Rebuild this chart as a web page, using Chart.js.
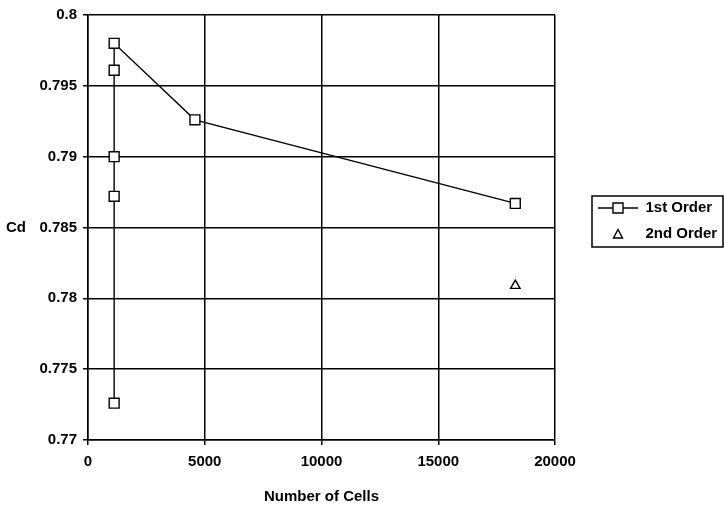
<!DOCTYPE html>
<html>
<head>
<meta charset="utf-8">
<script src="https://cdn.jsdelivr.net/npm/chart.js@4.4.1/dist/chart.umd.min.js"></script>
<style>
    body { margin: 0; background: #fff; }
</style>
</head>
<body>
<canvas id="cd" width="724" height="506"></canvas>
<script>
// data
const firstCells = [1120, 1120, 1120, 1120, 1120, 4580, 18300];
const firstCd = [0.7726, 0.7872, 0.7900, 0.7961, 0.7980, 0.7926, 0.7867];
const secondCells = [18300];
const secondCd = [0.7809];
const seriesNames = ["1st Order", "2nd Order"];
const xTicks = [0, 5000, 10000, 15000, 20000];
const yTicks = [0.77, 0.775, 0.78, 0.785, 0.79, 0.795, 0.8];

const FONT = { family: "'Liberation Sans', Arial, sans-serif", size: 15, weight: "bold" };
const FONT_CSS = FONT.weight + " " + FONT.size + "px " + FONT.family;
const LEG_PAD = 11;
const PLOT_RIGHT = 555;

function toPoints(xs, ys) {
    return xs.map(function (x, i) { return { x: x, y: ys[i] }; });
}

// legend width as chart.js computes it, so the plot ends at PLOT_RIGHT
const probe = document.createElement("canvas").getContext("2d");
probe.font = FONT_CSS;
const widest = Math.max.apply(null, seriesNames.map(function (s) { return probe.measureText(s).width; }));
const legendWidth = LEG_PAD + 40 + FONT.size / 2 + widest + 10;
const rightPad = 724 - PLOT_RIGHT - legendWidth;

// legend icons: line + square, lone triangle
function legendIcon(withLine, shape) {
    const c = document.createElement("canvas");
    c.width = 40;
    c.height = 14;
    const g = c.getContext("2d");
    g.strokeStyle = "#000";
    g.fillStyle = "#fff";
    g.lineWidth = 1.4;
    if (withLine) {
        g.beginPath();
        g.moveTo(0, 7);
        g.lineTo(40, 7);
        g.stroke();
    }
    g.beginPath();
    if (shape === "rect") {
        g.rect(15, 2, 10, 10);
    } else {
        g.moveTo(20, 2.5);
        g.lineTo(24.5, 11);
        g.lineTo(15.5, 11);
        g.closePath();
    }
    g.fill();
    g.stroke();
    return c;
}
const icons = [legendIcon(true, "rect"), legendIcon(false, "triangle")];

// move legend next to the plot and frame it
const legendFrame = {
    id: "legendFrame",
    afterLayout(chart) {
        const l = chart.legend;
        l.left += 32; l.right += 32;
        l.top -= 6.5; l.bottom -= 6.5;
    },
    afterDraw(chart) {
        const hb = chart.legend.legendHitBoxes;
        if (!hb || !hb.length) return;
        const ctx = chart.ctx;
        const x0 = hb[0].left - 6;
        const y0 = hb[0].top + hb[0].height / 2 - 12;
        const y1 = hb[hb.length - 1].top + hb[hb.length - 1].height / 2 + 13;
        ctx.save();
        ctx.strokeStyle = "#000";
        ctx.lineWidth = 1.5;
        ctx.strokeRect(x0, y0, 723 - x0, y1 - y0);
        // y axis caption, written horizontally
        ctx.fillStyle = "#000";
        ctx.font = FONT_CSS;
        ctx.textAlign = "center";
        ctx.textBaseline = "middle";
        const a = chart.chartArea;
        ctx.fillText("Cd", 16, (a.top + a.bottom) / 2);
        ctx.restore();
    }
};

const cdChart = new Chart(document.getElementById("cd"), {
    type: "scatter",
    data: {
        datasets: [
            {
                label: seriesNames[0],
                data: toPoints(firstCells, firstCd),
                showLine: true,
                borderColor: "#000",
                borderWidth: 1.4,
                pointStyle: "rect",
                pointRadius: 7,
                pointBackgroundColor: "#fff",
                pointBorderColor: "#000",
                pointBorderWidth: 1.4,
            },
            {
                label: seriesNames[1],
                data: toPoints(secondCells, secondCd),
                showLine: false,
                pointStyle: "triangle",
                pointRadius: 5.5,
                pointBackgroundColor: "#fff",
                pointBorderColor: "#000",
                pointBorderWidth: 1.4,
            },
        ],
    },
    options: {
        responsive: false,
        animation: false,
        layout: { padding: { top: 13, left: 0, right: rightPad, bottom: 0 } },
        plugins: {
            tooltip: { enabled: false },
            legend: {
                position: "right",
                fullSize: false,
                labels: {
                    usePointStyle: true,
                    pointStyleWidth: 40,
                    padding: LEG_PAD,
                    color: "#000",
                    font: FONT,
                    generateLabels(chart) {
                        const items = Chart.defaults.plugins.legend.labels.generateLabels(chart);
                        items.forEach(function (it, i) { it.pointStyle = icons[i]; });
                        return items;
                    },
                },
            },
        },
        scales: {
            x: {
                type: "linear",
                min: xTicks[0],
                max: xTicks[xTicks.length - 1],
                afterFit(scale) { scale.height = 66; },
                afterBuildTicks(scale) { scale.ticks = xTicks.map(function (v) { return { value: v }; }); },
                ticks: {
                    color: "#000",
                    font: FONT,
                    padding: 8,
                    maxRotation: 0,
                    callback: function (v) { return String(v); },
                },
                grid: { color: "#000", lineWidth: 1.5, tickLength: 5, tickColor: "#000" },
                border: { color: "#000", width: 1.5 },
                title: { display: true, text: "Number of Cells", color: "#000", font: FONT, padding: { top: 0, bottom: 0 } },
            },
            y: {
                type: "linear",
                min: yTicks[0],
                max: yTicks[yTicks.length - 1],
                afterFit(scale) { scale.width = 88; },
                afterBuildTicks(scale) { scale.ticks = yTicks.map(function (v) { return { value: v }; }); },
                ticks: {
                    color: "#000",
                    font: FONT,
                    padding: 6,
                    callback: function (v) { return String(Number(v.toFixed(3))); },
                },
                grid: { color: "#000", lineWidth: 1.5, tickLength: 5, tickColor: "#000" },
                border: { color: "#000", width: 1.5 },
            },
        },
    },
    plugins: [legendFrame],
});
</script>
</body>
</html>
